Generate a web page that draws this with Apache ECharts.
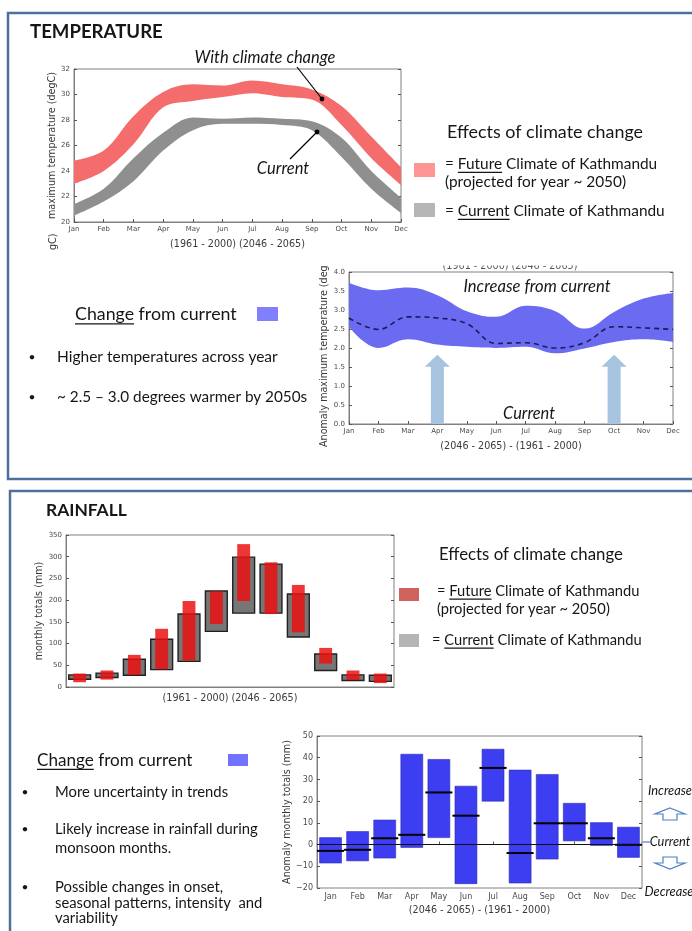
<!DOCTYPE html>
<html>
<head>
<meta charset="utf-8">
<title>Kathmandu climate change: temperature and rainfall</title>
<script src="https://cdn.jsdelivr.net/npm/echarts@6/dist/echarts.min.js"></script>
<style>
  html, body { margin: 0; padding: 0; background: #fff; }
  #c { width: 692px; height: 931px; }
</style>
</head>
<body>
<div id="c"></div>
<script>
// ---------- data ----------
const months = ['Jan', 'Feb', 'Mar', 'Apr', 'May', 'Jun', 'Jul', 'Aug', 'Sep', 'Oct', 'Nov', 'Dec'];

// Maximum temperature (degC): model range, 1961-2000 and 2046-2065
const tempCurrentLow  = [20.5, 21.6, 23.2, 25.6, 27.2, 27.7, 27.7, 27.6, 27.2, 25.1, 22.6, 20.7];
const tempCurrentHigh = [21.4, 22.6, 25.0, 27.0, 28.2, 28.1, 28.2, 28.1, 27.9, 26.6, 24.0, 21.9];
const tempFutureLow   = [23.0, 24.0, 26.1, 29.0, 29.5, 29.8, 30.1, 29.8, 29.6, 27.6, 25.0, 22.9];
const tempFutureHigh  = [24.8, 25.6, 28.3, 30.2, 30.8, 30.7, 31.1, 30.8, 30.4, 29.1, 26.7, 24.3];

// Anomaly of maximum temperature (degC), (2046-2065) - (1961-2000)
const anomLow  = [2.56, 2.00, 2.23, 2.09, 2.03, 2.00, 2.03, 1.86, 1.99, 2.16, 2.23, 2.16];
const anomHigh = [3.72, 3.52, 3.59, 3.39, 2.97, 2.82, 3.11, 2.97, 2.51, 2.95, 3.30, 3.45];
const anomMean = [2.79, 2.49, 2.82, 2.79, 2.64, 2.12, 2.14, 2.00, 2.14, 2.56, 2.53, 2.49];
const arrowMonths = ['Apr', 'Oct'];
const arrowTip = 1.82;

// Monthly rainfall totals (mm): model range
const rainCurrentLow  = [18, 22, 27, 40, 59, 128, 170, 170, 115, 38, 15, 13];
const rainCurrentHigh = [28, 32, 64, 110, 168, 221, 299, 283, 214, 76, 28, 27];
const rainFutureLow   = [11, 17, 28, 41, 61, 145, 198, 168, 126, 54, 16, 9];
const rainFutureHigh  = [31, 38, 74, 134, 198, 220, 329, 287, 235, 90, 38, 31];

// Anomaly of monthly rainfall totals (mm): range and mean
const rainAnomLow  = [-8.5, -7.5, -6.2, -1.3, 3.2, -18.0, 20.0, -17.7, -6.7, 1.7, -0.4, -5.9];
const rainAnomHigh = [3.2, 6.0, 11.3, 41.6, 39.2, 26.9, 43.9, 34.3, 32.3, 19.0, 10.1, 8.0];
const rainAnomMean = [-2.9, -2.4, 2.9, 4.5, 24.0, 13.3, 35.3, -3.9, 9.8, 9.8, 2.9, -0.1];

// ---------- helpers ----------
const TXT = 'Lato, "Open Sans", sans-serif';
const AXF = '"DejaVu Sans", sans-serif';
const INK = '#161616';
const mctx = document.createElement('canvas').getContext('2d');
function textWidth(s, size, style, weight) {
  mctx.font = (style || 'normal') + ' ' + (weight || 'normal') + ' ' + size + 'px ' + TXT;
  return mctx.measureText(s).width;
}
// a text line made of parts; parts flagged true get an underline
function textLine(x, y, parts, size, opt) {
  opt = opt || {};
  const full = parts.map(p => p[0]).join('');
  const els = [{
    type: 'text', x: x, y: y, z: 100,
    style: { text: full, fontSize: size, fontFamily: TXT, fontStyle: opt.style || 'normal',
      fontWeight: opt.weight || 'normal', fill: INK, align: opt.align || 'left', verticalAlign: 'middle' }
  }];
  let cx = x;
  parts.forEach(p => {
    const w = textWidth(p[0], size, opt.style, opt.weight);
    if (p[1]) {
      els.push({ type: 'line', z: 100,
        shape: { x1: cx, y1: y + size * 0.55, x2: cx + w, y2: y + size * 0.55 },
        style: { stroke: INK, lineWidth: 1.2 } });
    }
    cx += w;
  });
  return els;
}
function swatch(x, y, w, h, color) {
  return { type: 'rect', z: 100, shape: { x: x, y: y, width: w, height: h }, style: { fill: color } };
}
function bullet(x, y) {
  return { type: 'text', x: x, y: y, z: 100,
    style: { text: '\u2022', fontSize: 12, fontFamily: TXT, fill: INK, align: 'center', verticalAlign: 'middle' } };
}
function pointer(x1, y1, x2, y2) {
  return [
    { type: 'line', z: 100, shape: { x1: x1, y1: y1, x2: x2, y2: y2 }, style: { stroke: '#000', lineWidth: 1.2 } },
    { type: 'circle', z: 100, shape: { cx: x2, cy: y2, r: 2.4 }, style: { fill: '#000' } }
  ];
}

// ---------- axes ----------
const grids = [
  { left: 74, top: 69, width: 327, height: 153 },
  { left: 349, top: 272, width: 324, height: 152 },
  { left: 66, top: 535, width: 328, height: 152 },
  { left: 317, top: 736, width: 325, height: 152 }
].map(g => Object.assign({ show: true, borderColor: '#808080', borderWidth: 1, backgroundColor: 'transparent' }, g));

function axisBase(fs) {
  return {
    axisLine: { show: true, lineStyle: { color: '#808080', width: 1 } },
    axisTick: { show: true, inside: true, length: 3, alignWithLabel: true, lineStyle: { color: '#555' } },
    axisLabel: { color: '#4a4a4a', fontSize: fs, fontFamily: AXF, margin: 4 },
    splitLine: { show: false },
    nameTextStyle: { color: '#3a3a3a', fontSize: 9.6, fontFamily: AXF }
  };
}

const xAxis = [
  Object.assign(axisBase(7), { gridIndex: 0, type: 'category', data: months, boundaryGap: false,
    name: '(1961 - 2000) (2046 - 2065)', nameLocation: 'middle', nameGap: 17 }),
  Object.assign(axisBase(7), { gridIndex: 1, type: 'category', data: months, boundaryGap: false,
    name: '(2046 - 2065) - (1961 - 2000)', nameLocation: 'middle', nameGap: 17 }),
  Object.assign(axisBase(7), { gridIndex: 2, type: 'category', data: months, boundaryGap: true,
    axisLabel: { show: false }, axisTick: { show: false },
    name: '(1961 - 2000) (2046 - 2065)', nameLocation: 'middle', nameGap: 6 }),
  Object.assign(axisBase(8), { gridIndex: 3, type: 'category', data: months, boundaryGap: true,
    name: '(2046 - 2065) - (1961 - 2000)', nameLocation: 'middle', nameGap: 17 })
];
xAxis[3].axisLabel.margin = 5;

const yDefs = [
  { min: 20, max: 32, interval: 2, fs: 7, name: 'maximum temperature (degC)', gap: 14 },
  { min: 0, max: 4, interval: 0.5, fs: 7, fmt: v => v.toFixed(1), name: '', gap: 0 },
  { min: 0, max: 350, interval: 50, fs: 7, name: 'monthly totals (mm)', gap: 19 },
  { min: -20, max: 50, interval: 10, fs: 8, fmt: v => String(v).replace('-', '\u2212'), name: 'Anomaly monthly totals (mm)', gap: 22 }
];
const yAxis = [];
yDefs.forEach((d, i) => {
  const left = Object.assign(axisBase(d.fs), { gridIndex: i, type: 'value', min: d.min, max: d.max, interval: d.interval,
    name: d.name, nameLocation: 'middle', nameRotate: 90, nameGap: d.gap });
  if (d.fmt) left.axisLabel.formatter = d.fmt;
  yAxis.push(left);
  yAxis.push(Object.assign(axisBase(d.fs), { gridIndex: i, type: 'value', position: 'right', min: d.min, max: d.max,
    interval: d.interval, axisLine: { show: false }, axisLabel: { show: false } }));
});
// left axes are at even indices
const Y = i => 2 * i;

// ---------- series ----------
function band(gridIdx, stackName, low, high, color, smooth) {
  return [
    { type: 'line', xAxisIndex: gridIdx, yAxisIndex: Y(gridIdx), stack: stackName, data: low, smooth: smooth,
      symbol: 'none', silent: true, lineStyle: { opacity: 0 }, z: 2 },
    { type: 'line', xAxisIndex: gridIdx, yAxisIndex: Y(gridIdx), stack: stackName,
      data: high.map((v, i) => +(v - low[i]).toFixed(3)), smooth: smooth,
      symbol: 'none', silent: true, lineStyle: { opacity: 0 }, areaStyle: { color: color, opacity: 1 }, z: 2 }
  ];
}

function boxSeries(gridIdx, low, high, widthFrac, style, z) {
  return {
    type: 'custom', xAxisIndex: gridIdx, yAxisIndex: Y(gridIdx), z: z,
    data: months.map((m, i) => [i, low[i], high[i]]),
    renderItem: (params, api) => {
      const top = api.coord([api.value(0), api.value(2)]);
      const bot = api.coord([api.value(0), api.value(1)]);
      const w = api.size([1, 0])[0] * widthFrac;
      return { type: 'rect', shape: { x: top[0] - w / 2, y: top[1], width: w, height: bot[1] - top[1] }, style: style };
    }
  };
}

const series = [
  ...band(0, 'tcur', tempCurrentLow, tempCurrentHigh, '#8f8f8f', 0.35),
  ...band(0, 'tfut', tempFutureLow, tempFutureHigh, '#f46c6c', 0.35),
  ...band(1, 'anom', anomLow, anomHigh, '#6b6bf2', 0.4),
  { type: 'line', xAxisIndex: 1, yAxisIndex: Y(1), data: anomMean, smooth: 0.4, symbol: 'none', silent: true, z: 3,
    lineStyle: { color: '#1c1c58', width: 1.6, type: [5, 4] } },
  { type: 'custom', xAxisIndex: 1, yAxisIndex: Y(1), z: 4,
    data: arrowMonths.map(m => [m, arrowTip]),
    renderItem: (params, api) => {
      const tip = api.coord([api.value(0), api.value(1)]);
      const base = api.coord([api.value(0), 0]);
      const hw = 12.5, sw = 6.5, hl = 12;
      return { type: 'polygon', shape: { points: [
        [tip[0], tip[1]], [tip[0] + hw, tip[1] + hl], [tip[0] + sw, tip[1] + hl], [tip[0] + sw, base[1]],
        [tip[0] - sw, base[1]], [tip[0] - sw, tip[1] + hl], [tip[0] - hw, tip[1] + hl]] },
        style: { fill: '#a6c3df' } };
    }
  },
  boxSeries(2, rainCurrentLow, rainCurrentHigh, 0.8, { fill: '#767676', stroke: '#202020', lineWidth: 1.4 }, 2),
  boxSeries(2, rainFutureLow, rainFutureHigh, 0.47, { fill: 'rgba(236,16,16,0.84)' }, 3),
  {
    type: 'custom', xAxisIndex: 3, yAxisIndex: Y(3), z: 3,
    data: months.map((m, i) => [i, rainAnomLow[i], rainAnomHigh[i], rainAnomMean[i]]),
    renderItem: (params, api) => {
      const top = api.coord([api.value(0), api.value(2)]);
      const bot = api.coord([api.value(0), api.value(1)]);
      const mid = api.coord([api.value(0), api.value(3)]);
      const band = api.size([1, 0])[0];
      const w = band * 0.81, mw = band * 1.0;
      return { type: 'group', children: [
        { type: 'rect', shape: { x: top[0] - w / 2, y: top[1], width: w, height: bot[1] - top[1] },
          style: { fill: '#3d3df2', stroke: '#2c2cb0', lineWidth: 0.6 } },
        { type: 'line', shape: { x1: mid[0] - mw / 2, y1: mid[1], x2: mid[0] + mw / 2, y2: mid[1] },
          style: { stroke: '#000', lineWidth: 2 } }
      ] };
    },
    markLine: { silent: true, symbol: 'none', label: { show: false },
      lineStyle: { color: '#111', width: 1, type: 'solid' }, data: [{ yAxis: 0 }] }
  }
];

// ---------- page text and frames ----------
const graphic = [
  { type: 'rect', z: 1, shape: { x: 8, y: 13, width: 720, height: 466 }, style: { fill: 'none', stroke: '#4d709c', lineWidth: 2.5 } },
  { type: 'rect', z: 1, shape: { x: 10, y: 491, width: 720, height: 480 }, style: { fill: 'none', stroke: '#4d709c', lineWidth: 2.5 } },

  ...textLine(30, 32, [['TEMPERATURE']], 18.6, { weight: 'bold' }),
  ...textLine(46, 510, [['RAINFALL']], 17.4, { weight: 'bold' }),

  // temperature chart annotations
  ...textLine(265, 58, [['With climate change']], 16.5, { style: 'italic', align: 'center' }),
  ...pointer(297, 67, 322, 99),
  ...textLine(283, 169, [['Current']], 16.5, { style: 'italic', align: 'center' }),
  ...pointer(290, 159, 317, 132),

  // temperature key
  ...textLine(447, 132, [['Effects of climate change']], 17.9),
  swatch(414, 163, 21, 14, '#ff9494'),
  ...textLine(445, 164, [['= '], ['Future', true], [' Climate of Kathmandu']], 15.4),
  ...textLine(445, 182, [['(projected for year ~ 2050)']], 15.4),
  swatch(414, 203, 21, 14, '#b6b6b6'),
  ...textLine(445, 211, [['= '], ['Current', true], [' Climate of Kathmandu']], 15.4),

  // temperature change notes
  ...textLine(75, 314, [['Change', true], [' from current']], 17.8),
  swatch(257, 307, 21, 14, '#8080ff'),
  bullet(32, 357), ...textLine(57, 357, [['Higher temperatures across year']], 15.5),
  bullet(32, 397), ...textLine(57, 397, [['~ 2.5 \u2013 3.0 degrees warmer by 2050s']], 15.3),

  // anomaly chart texts
  ...textLine(537, 287, [['Increase from current']], 16.6, { style: 'italic', align: 'center' }),
  ...textLine(529, 414, [['Current']], 16.4, { style: 'italic', align: 'center' }),
  { type: 'text', x: 510, y: 266, z: 5, style: { text: '(1961 - 2000) (2046 - 2065)', fontSize: 9.6, fontFamily: AXF,
      fill: '#555', align: 'center', verticalAlign: 'middle' } },
  { type: 'rect', z: 6, shape: { x: 420, y: 250, width: 180, height: 15.5 }, style: { fill: '#fff' } },
  { type: 'text', x: 324, y: 447, rotation: Math.PI / 2, z: 5,
    style: { text: 'Anomaly maximum temperature (deg', fontSize: 9.6, fontFamily: AXF, fill: '#3a3a3a',
      align: 'left', verticalAlign: 'middle' } },
  { type: 'text', x: 53, y: 250, rotation: Math.PI / 2, z: 5,
    style: { text: 'gC)', fontSize: 9.6, fontFamily: AXF, fill: '#3a3a3a', align: 'left', verticalAlign: 'middle' } },

  // rainfall key
  ...textLine(439, 555, [['Effects of climate change']], 16.8),
  swatch(399, 588, 20, 13, '#d0625c'),
  ...textLine(437, 591, [['= '], ['Future', true], [' Climate of Kathmandu']], 14.7),
  ...textLine(437, 609, [['(projected for year ~ 2050)']], 14.7),
  swatch(399, 634, 20, 13, '#b5b5b5'),
  ...textLine(432, 640, [['= '], ['Current', true], [' Climate of Kathmandu']], 14.7),

  // rainfall change notes
  ...textLine(37, 760, [['Change', true], [' from current']], 17.1),
  swatch(228, 754, 20, 12, '#7272ff'),
  bullet(25, 792), ...textLine(55, 792, [['More uncertainty in trends']], 14.8),
  bullet(25, 829), ...textLine(55, 829, [['Likely increase in rainfall during']], 14.8),
  ...textLine(55, 848, [['monsoon months.']], 14.8),
  bullet(25, 887), ...textLine(55, 887, [['Possible changes in onset,']], 14.8),
  ...textLine(55, 903, [['seasonal patterns, intensity  and']], 14.8),
  ...textLine(55, 918, [['variability']], 14.8),

  // rainfall anomaly side marks
  ...textLine(670, 791, [['Increase']], 12.8, { style: 'italic', align: 'center' }),
  { type: 'polygon', z: 100, shape: { points: [[670, 808], [685, 814], [677, 814], [677, 820], [663, 820], [663, 814], [655, 814]] },
    style: { fill: '#fff', stroke: '#4a82c4', lineWidth: 1.2 } },
  { type: 'line', z: 100, shape: { x1: 642, y1: 842, x2: 650, y2: 842 }, style: { stroke: '#4a82c4', lineWidth: 1.2 } },
  ...textLine(670, 842, [['Current']], 12.8, { style: 'italic', align: 'center' }),
  { type: 'polygon', z: 100, shape: { points: [[663, 857], [677, 857], [677, 863], [685, 863], [670, 869], [655, 863], [663, 863]] },
    style: { fill: '#fff', stroke: '#4a82c4', lineWidth: 1.2 } },
  ...textLine(669, 892, [['Decrease']], 12.8, { style: 'italic', align: 'center' })
];

const chart = echarts.init(document.getElementById('c'), null, { renderer: 'canvas', width: 692, height: 931 });
chart.setOption({
  animation: false,
  backgroundColor: '#fff',
  grid: grids,
  xAxis: xAxis,
  yAxis: yAxis,
  series: series,
  graphic: graphic
});
</script>
</body>
</html>
